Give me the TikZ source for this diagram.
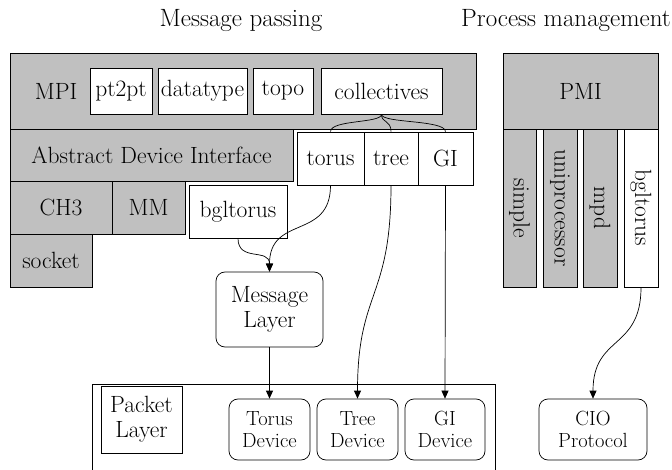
\documentclass[tikz,border=0pt]{standalone}
\usetikzlibrary{arrows.meta}

\definecolor{boxgray}{RGB}{192,192,192}

\tikzset{
  box/.style={draw, line width=0.7pt, inner sep=0pt},
  graybox/.style={box, fill=boxgray},
  whitebox/.style={box, fill=white},
  roundbox/.style={box, fill=white, rounded corners=9pt, align=center},
  lbl/.style={inner sep=0pt},
  small/.style={font=\fontsize{20.5}{22}\selectfont},
  link/.style={line width=0.7pt},
  arr/.style={link, -{Triangle[length=8pt,width=7pt]}},
}

\begin{document}
\begin{tikzpicture}[x=1pt,y=1pt,yscale=-1,xscale=1,font=\fontsize{23.5}{25}\selectfont]
\useasboundingbox (0,0) rectangle (672,470);

% titles
\node[lbl, font=\fontsize{25}{27}\selectfont] (tmsg) at (241,21) {Message passing};
\node[lbl, font=\fontsize{25}{27}\selectfont] (tproc) at (566,21) {Process management};

% message passing stack
\node[graybox, minimum width=466, minimum height=76] (mpi) at (243,91) {};
\node[lbl] (mpilbl) at (56,91) {MPI};
\node[whitebox, minimum width=62, minimum height=46] (pt2pt) at (121,91) {pt2pt};
\node[whitebox, minimum width=89, minimum height=46] (datatype) at (202.5,91) {datatype};
\node[whitebox, minimum width=60, minimum height=46] (topo) at (283,91) {topo};
\node[whitebox, minimum width=121, minimum height=46] (coll) at (381.5,91) {collectives};

\node[graybox, minimum width=283, minimum height=52] (adi) at (151.5,155) {Abstract Device Interface};
\node[whitebox, minimum width=67, minimum height=53] (torus) at (330.5,158.5) {torus};
\node[whitebox, minimum width=54, minimum height=53] (tree) at (391,158.5) {tree};
\node[whitebox, minimum width=55, minimum height=53] (gi) at (445.5,158.5) {GI};

\node[graybox, minimum width=102, minimum height=53] (ch3) at (61,207.5) {CH3};
\node[graybox, minimum width=73, minimum height=53] (mm) at (148.5,207.5) {MM};
\node[graybox, minimum width=82, minimum height=53] (socket) at (51,260.5) {socket};
\node[whitebox, minimum width=98, minimum height=53] (bgl) at (238,211.5) {bgltorus};

\node[roundbox, minimum width=107, minimum height=75] (msg) at (269.5,309.5) {Message\\Layer};

% packet layer
\draw[link] (92,470) -- (92,384) -- (495,384) -- (495,470);
\node[whitebox, align=center, minimum width=81, minimum height=67] (packet) at (141.5,419.5) {Packet\\Layer};
\node[roundbox, small, minimum width=81, minimum height=61] (torusdev) at (269.5,429.5) {Torus\\Device};
\node[roundbox, small, minimum width=81, minimum height=61] (treedev) at (357.5,429.5) {Tree\\Device};
\node[roundbox, small, minimum width=80, minimum height=61] (gidev) at (445,429.5) {GI\\Device};

% process management stack
\node[graybox, minimum width=155, minimum height=76] (pmi) at (580.5,91) {PMI};
\node[graybox, minimum width=33, minimum height=158] (simple) at (519.5,208) {};
\node[graybox, minimum width=34, minimum height=158] (unipro) at (560,208) {};
\node[graybox, minimum width=34, minimum height=158] (mpd) at (600,208) {};
\node[whitebox, minimum width=34, minimum height=158] (pbgl) at (641,208) {};
\node[lbl, rotate=-90] (simplelbl) at (simple) {simple};
\node[lbl, rotate=-90] (uniprolbl) at (unipro) {uniprocessor};
\node[lbl, rotate=-90] (mpdlbl) at (mpd) {mpd};
\node[lbl, rotate=-90] (pbgllbl) at (pbgl) {bgltorus};

\node[roundbox, small, minimum width=108, minimum height=61] (cio) at (593,429.5) {CIO\\Protocol};

% brace from collectives
\draw[link] (coll.south) .. controls ++(0,9) and ++(0,-12) .. (torus.north);
\draw[link] (coll.south) .. controls ++(0,9) and ++(0,-12) .. (tree.north);
\draw[link] (coll.south) .. controls ++(0,9) and ++(0,-12) .. (gi.north);

% connectors
\draw[arr] (torus.south) .. controls ++(0,55) and ++(0,-57) .. (msg.north);
\draw[arr] (bgl.south) .. controls ++(0,24) and ++(0,-24) .. (msg.north);
\draw[arr] (msg.south) -- (torusdev.north);
\draw[arr] (tree.south) .. controls ++(0,115) and ++(0,-109) .. (treedev.north);
\draw[arr] (gi.south) -- (gidev.north);
\draw[arr] (pbgl.south) .. controls ++(0,63) and ++(0,-64) .. (cio.north);

\end{tikzpicture}
\end{document}
